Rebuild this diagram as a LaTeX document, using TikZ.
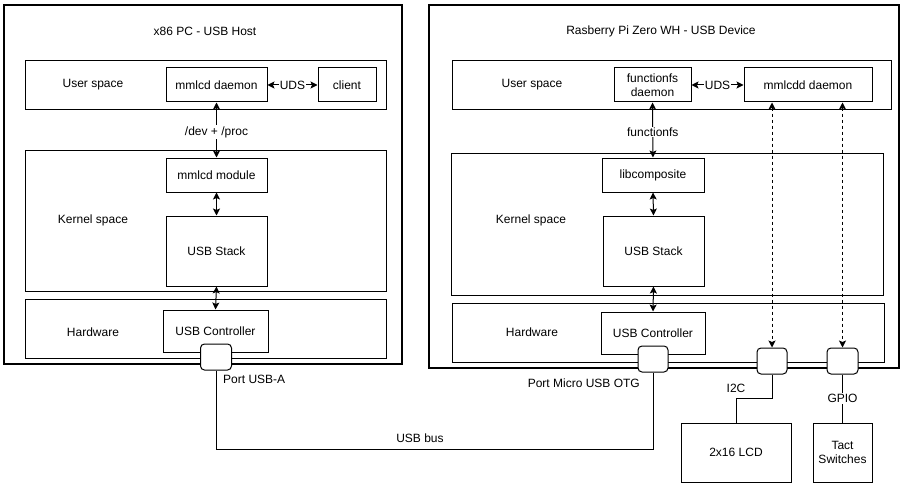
\documentclass[tikz,border=0pt]{standalone}
\usepackage{fontspec}
\setmainfont{Liberation Sans}
\usetikzlibrary{arrows.meta}
\begin{document}
\begin{tikzpicture}[x=1pt,y=-1pt,
  every node/.style={font=\fontsize{12}{14}\selectfont, inner sep=0pt},
  box/.style={draw=black, line width=1pt, fill=white, align=center},
  rbox/.style={box, rounded corners=4pt},
  lbl/.style={fill=white, inner sep=1pt},
  arr/.style={line width=1pt, {Stealth[length=7pt,width=7pt,inset=1.5pt]}-{Stealth[length=7pt,width=7pt,inset=1.5pt]}},
  conn/.style={line width=1pt}]
\useasboundingbox (0,0) rectangle (906,487);
% outer boxes
\node[box, line width=1.3pt, minimum width=398, minimum height=359] (lo) at (203,184.5) {};
\node[box, line width=1.3pt, minimum width=470, minimum height=363] (ro) at (664,186.5) {};
\node (lt) at (205,31) {x86 PC - USB Host};
\node (rt) at (661,31) {Rasberry Pi Zero WH - USB Device};
% left layers
\node[box, minimum width=361, minimum height=49] (lu) at (205.5,85.5) {};
\node[box, minimum width=361, minimum height=141] (lk) at (205.5,220.5) {};
\node[box, minimum width=361, minimum height=59] (lh) at (205.5,328.5) {};
\node (lul) at (93,85) {User space};
\node (lkl) at (93,220) {Kernel space};
\node (lhl) at (93,332) {Hardware};
\node[box, minimum width=101, minimum height=34] (md) at (216.5,85) {mmlcd daemon};
\node[box, minimum width=58, minimum height=34] (cl) at (347,85) {client};
\node[box, minimum width=101, minimum height=34] (mm) at (216.5,175) {mmlcd module};
\node[box, minimum width=101, minimum height=70] (ls) at (216.5,251) {USB Stack};
\node[box, minimum width=105, minimum height=42] (lc) at (215.5,331) {USB Controller};
% right layers
\node[box, minimum width=439, minimum height=49] (ru) at (671.5,85.5) {};
\node[box, minimum width=432, minimum height=142] (rk) at (667,224) {};
\node[box, minimum width=432, minimum height=59] (rh) at (668,332.5) {};
\node (rul) at (532,85) {User space};
\node (rkl) at (531,220) {Kernel space};
\node (rhl) at (532,332) {Hardware};
\node[box, minimum width=77, minimum height=34] (fd) at (652.5,85) {functionfs\\daemon};
\node[box, minimum width=128, minimum height=34] (mdd) at (808,85) {mmlcdd daemon};
\node[box, minimum width=102, minimum height=34] (lib) at (653,175) {libcomposite};
\node[box, minimum width=101, minimum height=70] (rs) at (653.5,251) {USB Stack};
\node[box, minimum width=104, minimum height=42] (rc) at (653,333) {USB Controller};
% ports
\node[rbox, minimum width=31, minimum height=26] (pa) at (216,357) {};
\node[rbox, minimum width=30, minimum height=26] (pm) at (653,359) {};
\node[rbox, minimum width=30, minimum height=26] (pi) at (772,361) {};
\node[rbox, minimum width=31, minimum height=26] (pg) at (842.5,361) {};
\node[anchor=west] (pal) at (223,379) {Port USB-A};
\node[anchor=east] (pml) at (640,383) {Port Micro USB OTG};
% peripherals
\node[box, minimum width=110, minimum height=59] (lcd) at (736,452.5) {2x16 LCD};
\node[box, minimum width=59, minimum height=59] (tact) at (842.5,452.5) {Tact\\Switches};
% arrows left
\draw[arr] (md.east) -- (cl.west) node[midway, lbl] (uds1) {UDS};
\draw[arr] (md.south) -- (mm.north) node[midway, lbl, yshift=-2] (dp) {/dev + /proc};
\draw[arr] (mm.south) -- (ls.north);
\draw[arr] (ls.south) -- (lc.north);
% arrows right
\draw[arr] (fd.east) -- (mdd.west) node[midway, lbl] (uds2) {UDS};
\draw[arr] (fd.south) -- (lib.north) node[midway, lbl, yshift=-2] (ffs) {functionfs};
\draw[arr] (lib.south) -- (rs.north);
\draw[arr] (rs.south) -- (rc.north);
\draw[arr, dashed] (mdd.south -| pi) -- (pi.north);
\draw[arr, dashed] (mdd.south -| pg) -- (pg.north);
% buses
\coordinate (busy) at (0,449);
\draw[conn] (pa.south) |- (busy -| pm.south) -- (pm.south);
\node (busl) at (420,438) {USB bus};
\coordinate (i2cy) at (0,398);
\draw[conn] (pi.south) |- (i2cy -| lcd.north) -- (lcd.north);
\node (i2cl) at (736,388) {I2C};
\draw[conn] (pg.south) -- (tact.north) node[midway, lbl] (gpl) {GPIO};
\end{tikzpicture}
\end{document}
